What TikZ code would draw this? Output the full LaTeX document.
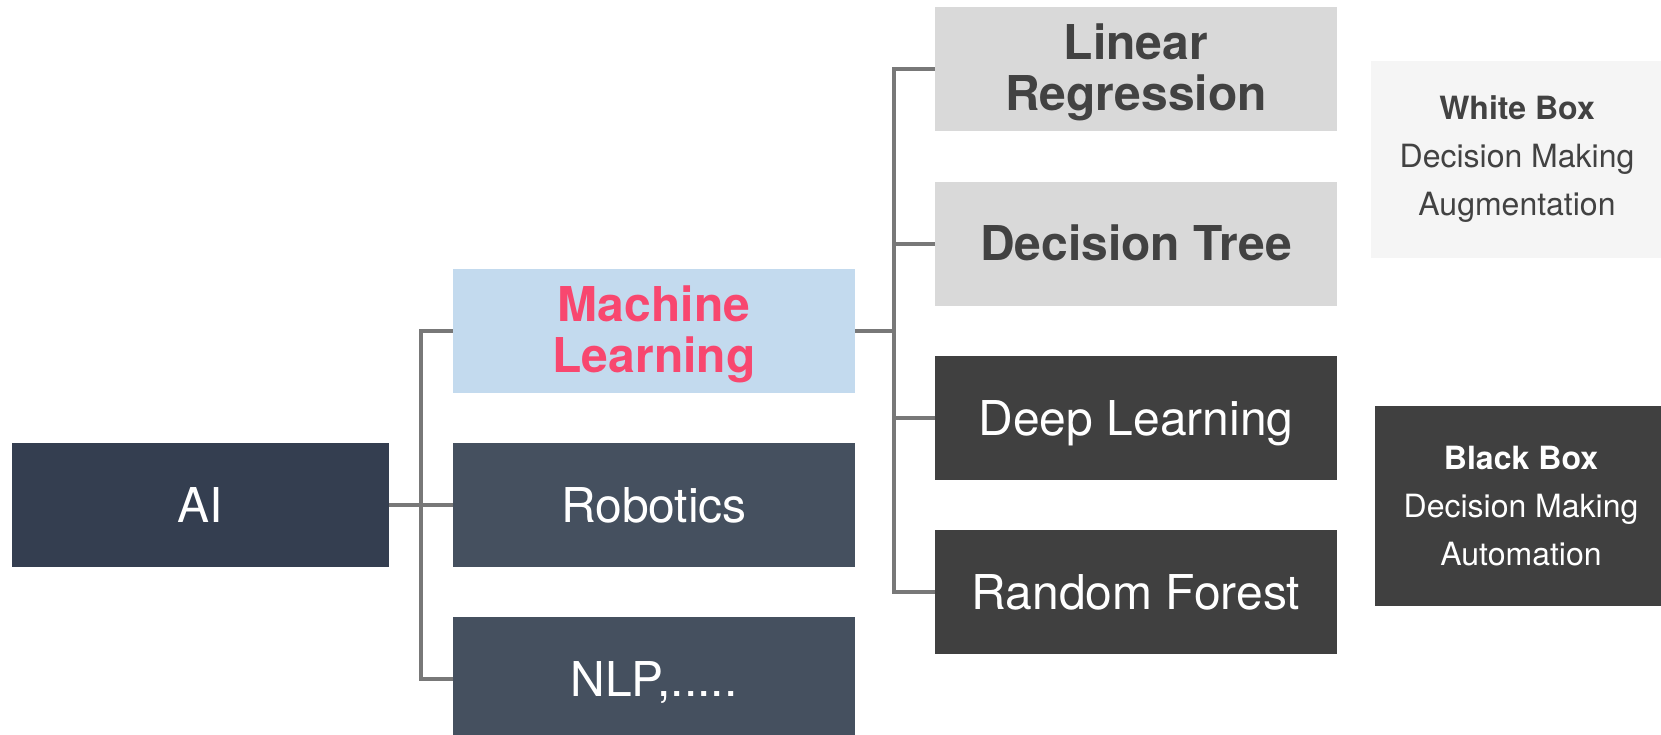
\documentclass[tikz,border=0pt]{standalone}
\usepackage{fontspec}
\setmainfont{TeX Gyre Heros}
\definecolor{aiblue}{HTML}{343E50}
\definecolor{slate}{HTML}{45505F}
\definecolor{mlfill}{HTML}{C3DAEE}
\definecolor{mlpink}{HTML}{F8476F}
\definecolor{lightbox}{HTML}{D9D9D9}
\definecolor{lighttext}{HTML}{424242}
\definecolor{darkbox}{HTML}{404040}
\definecolor{paperbox}{HTML}{F5F5F5}
\definecolor{connector}{HTML}{787878}
\tikzset{
  box/.style={rectangle, inner sep=0pt, minimum width=402pt, minimum height=124pt,
    align=center, font=\fontsize{48}{51}\selectfont},
  oneline/.style={text height=37pt, text depth=3pt},
  twoline/.style={text depth=4pt},
  navybox/.style={box, oneline, fill=aiblue, text=white, minimum width=377pt},
  slatebox/.style={box, oneline, fill=slate, text=white},
  mlbox/.style={box, twoline, fill=mlfill, text=mlpink, font=\fontsize{48}{51}\selectfont\bfseries},
  greybox/.style={box, fill=lightbox, text=lighttext, font=\fontsize{48}{51}\selectfont\bfseries},
  blackbox/.style={box, oneline, fill=darkbox, text=white},
  notebox/.style={rectangle, inner sep=0pt, minimum width=292pt, align=center,
    font=\fontsize{32}{48}\selectfont},
  conn/.style={draw=connector, line width=3.5pt, line join=miter}
}
\begin{document}
\begin{tikzpicture}[x=1pt, y=-1pt]
  \useasboundingbox (0,0) rectangle (1661,735);
  \clip (0,0) rectangle (1661,735);
  \fill[white] (0,0) rectangle (1661,735);

  % first level
  \node[navybox] (ai) at (200.5,505) {AI};
  \node[mlbox] (ml) at (654,331) {Machine\\Learning};
  \node[slatebox] (rob) at (654,505) {Robotics};
  \node[slatebox] (nlp) at (654,679) {NLP,.....};

  % machine learning methods
  \node[greybox, twoline] (lr) at (1136,69) {Linear\\Regression};
  \node[greybox, oneline] (dt) at (1136,244) {Decision Tree};
  \node[blackbox] (dl) at (1136,418) {Deep Learning};
  \node[blackbox] (rf) at (1136,592) {Random Forest};

  % interpretability notes
  \node[notebox, fill=paperbox, text=lighttext, minimum height=197pt] (wb) at (1517,159.5)
    {\textbf{White Box}\\Decision Making\\Augmentation};
  \node[notebox, fill=darkbox, text=white, minimum height=200pt] (bb) at (1521,506)
    {\textbf{Black Box}\\Decision Making\\Automation};

  % tree connectors
  \coordinate (j1) at (421,505);
  \coordinate (j2) at (894,331);
  \draw[conn] (ai.east) -- (rob.west);
  \draw[conn] (ml.west) -| (j1) |- (nlp.west);
  \draw[conn] (ml.east) -- (j2);
  \draw[conn] (lr.west) -| (j2) |- (rf.west);
  \draw[conn] (dt.west) -- (dt.west -| j2);
  \draw[conn] (dl.west) -- (dl.west -| j2);
\end{tikzpicture}
\end{document}
